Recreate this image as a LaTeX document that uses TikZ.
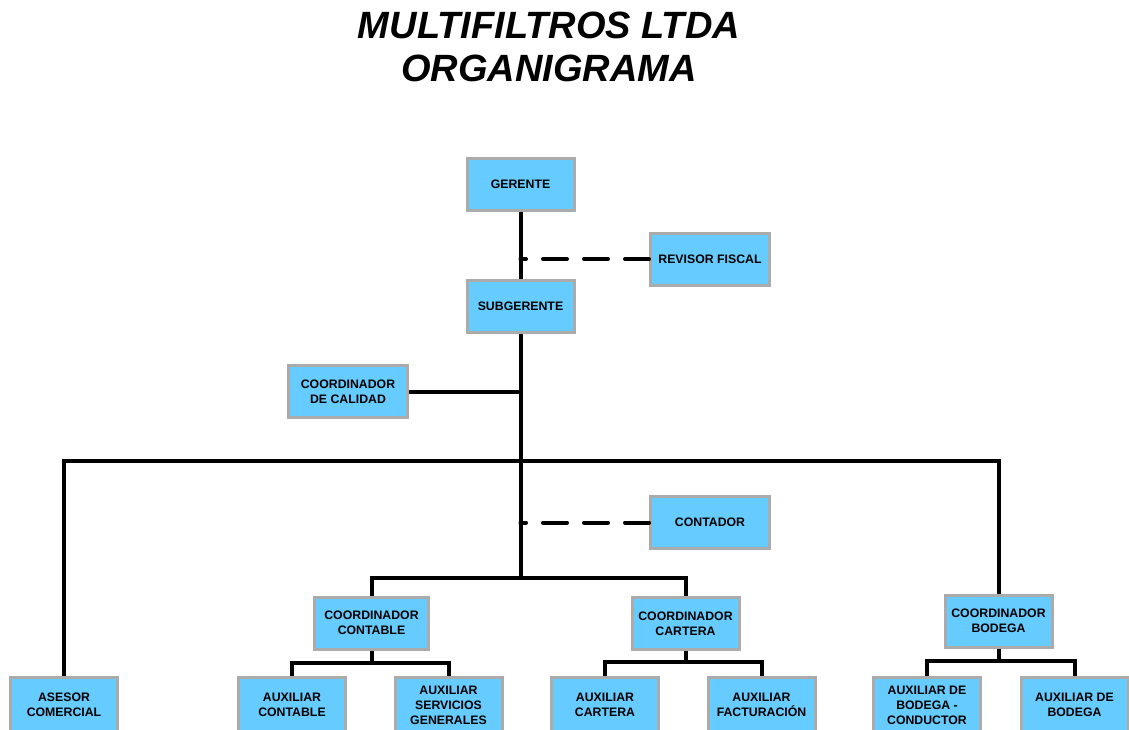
\documentclass[tikz,border=0pt]{standalone}
\usepackage{fontspec}
\setmainfont{Liberation Sans}
\usetikzlibrary{positioning}
\definecolor{cajaazul}{HTML}{66CCFF}
\definecolor{bordegris}{HTML}{ABABAB}

\begin{document}
\begin{tikzpicture}[x=1pt, y=-1pt,
  cargo/.style={draw=bordegris, fill=cajaazul, line width=3pt, align=center,
    minimum width=107pt, minimum height=52pt, inner sep=2pt,
    font=\fontsize{12.3}{15}\selectfont\bfseries},
  cargoancho/.style={cargo, minimum width=119pt},
  linea/.style={line width=4pt},
  asesoria/.style={line width=4pt, dash pattern=on 24pt off 17pt, line cap=round}]
\def\yfila{705};

\useasboundingbox (0,0) rectangle (1129,730);

% titulo
\node[font=\fontsize{38}{43}\selectfont\bfseries\itshape, align=center] (titulo) at (549,47) {MULTIFILTROS LTDA\\ORGANIGRAMA};

% direccion
\node[cargo] (gerente) at (520.5,184.5) {GERENTE};
\node[cargoancho] (revisor) at (710,259) {REVISOR FISCAL};
\node[cargo] (subgerente) at (520.5,306.5) {SUBGERENTE};
\node[cargoancho] (calidad) at (348,391.5) {COORDINADOR\\DE CALIDAD};
\node[cargoancho] (contador) at (710,522.5) {CONTADOR};

% coordinadores
\node[cargo, minimum width=114pt] (ccontable) at (371.5,623) {COORDINADOR\\CONTABLE};
\node[cargo] (ccartera) at (685.5,623.5) {COORDINADOR\\CARTERA};
\node[cargo] (cbodega) at (998.5,621) {COORDINADOR\\BODEGA};

% auxiliares
\node[cargo, minimum height=56pt] (asesor) at (64,\yfila) {ASESOR\\COMERCIAL};
\node[cargo, minimum height=56pt] (auxcontable) at (292,\yfila) {AUXILIAR\\CONTABLE};
\node[cargo, minimum height=56pt] (auxservicios) at (448.5,\yfila) {AUXILIAR\\SERVICIOS\\GENERALES};
\node[cargo, minimum height=56pt] (auxcartera) at (605,\yfila) {AUXILIAR\\CARTERA};
\node[cargo, minimum height=56pt] (auxfacturacion) at (761.5,\yfila) {AUXILIAR\\FACTURACIÓN};
\node[cargo, minimum height=56pt] (auxconductor) at (927,\yfila) {AUXILIAR DE\\BODEGA -\\CONDUCTOR};
\node[cargo, minimum height=56pt] (auxbodega) at (1074.5,\yfila) {AUXILIAR DE\\BODEGA};

% puntos de union
\coordinate (barra) at (520.5,461);
\coordinate (reparto) at (520.5,578);

% lineas
\draw[linea] (gerente.south) -- (subgerente.north);
\draw[asesoria] (revisor.west) -- (revisor.west -| gerente.south);
\draw[linea] (subgerente.south) -- (reparto);
\draw[linea] (calidad.east) -- (calidad.east -| subgerente.south);
\draw[linea] (asesor.north) |- (barra) -| (cbodega.north);
\draw[asesoria] (contador.west) -- (contador.west -| reparto);
\draw[linea] (ccontable.north) |- (reparto) -| (ccartera.north);

\draw[linea] (ccontable.south) -- ++(0,12) coordinate (ramacontable);
\draw[linea] (auxcontable.north) |- (ramacontable) -| (auxservicios.north);
\draw[linea] (ccartera.south) -- ++(0,11) coordinate (ramacartera);
\draw[linea] (auxcartera.north) |- (ramacartera) -| (auxfacturacion.north);
\draw[linea] (cbodega.south) -- ++(0,12) coordinate (ramabodega);
\draw[linea] (auxconductor.north) |- (ramabodega) -| (auxbodega.north);

\end{tikzpicture}
\end{document}
